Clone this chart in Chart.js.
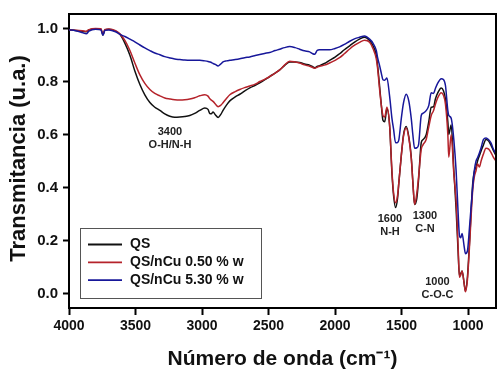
<!DOCTYPE html>
<html><head><meta charset="utf-8">
<script src="https://cdn.jsdelivr.net/npm/chart.js@4"></script>
<style>html,body{margin:0;padding:0;background:#fff}#wrap{width:500px;height:374px;position:relative}</style>
</head><body><div id="wrap"><canvas id="c" width="500" height="374"></canvas></div>
<script>
const wavenumbers = [4000,3950,3900,3870,3850,3800,3760,3745,3730,3700,
3650,3617,3580,3542,3505,3467,3430,3392,3355,3317,
3280,3242,3205,3167,3130,3092,3055,3017,2979,2955,
2941,2930,2917,2900,2879,2860,2842,2815,2791,2750,
2716,2680,2641,2600,2566,2530,2491,2450,2416,2380,
2341,2300,2266,2230,2191,2168,2153,2135,2116,2080,
2041,2000,1966,1930,1890,1850,1816,1778,1740,1715,
1690,1680,1665,1652,1640,1627,1610,1590,1572,1560,
1545,1530,1520,1502,1485,1465,1445,1427,1415,1402,
1385,1372,1352,1340,1315,1295,1277,1260,1245,1227,
1202,1185,1170,1152,1145,1127,1107,1090,1075,1065,
1055,1045,1030,1020,1005,990,965,953,940,928,
915,902,885,865,845,828,810,790];

const qs = [0.995,0.993,0.990,0.988,0.995,0.998,0.998,0.975,0.995,0.997,
0.990,0.978,0.945,0.899,0.840,0.789,0.750,0.721,0.703,0.691,
0.678,0.669,0.665,0.666,0.668,0.672,0.680,0.691,0.700,0.695,
0.679,0.678,0.685,0.675,0.664,0.675,0.691,0.712,0.727,0.742,
0.752,0.764,0.776,0.786,0.795,0.806,0.819,0.832,0.844,0.860,
0.874,0.874,0.872,0.866,0.862,0.856,0.852,0.857,0.860,0.868,
0.880,0.892,0.905,0.920,0.935,0.950,0.960,0.967,0.954,0.935,
0.899,0.860,0.782,0.710,0.654,0.648,0.697,0.636,0.452,0.370,
0.324,0.360,0.420,0.520,0.600,0.630,0.590,0.514,0.420,0.336,
0.360,0.430,0.569,0.580,0.599,0.650,0.703,0.705,0.735,0.758,
0.776,0.765,0.734,0.648,0.600,0.636,0.464,0.320,0.160,0.067,
0.075,0.085,0.040,0.010,0.060,0.185,0.416,0.460,0.477,0.501,
0.520,0.538,0.560,0.581,0.575,0.560,0.540,0.520];

const qsCu050 = [0.995,0.994,0.992,0.990,0.996,1.000,0.999,0.980,0.997,0.998,
0.992,0.980,0.955,0.917,0.870,0.825,0.793,0.770,0.755,0.746,
0.738,0.734,0.731,0.730,0.731,0.734,0.739,0.746,0.750,0.745,
0.735,0.730,0.725,0.715,0.705,0.710,0.720,0.737,0.750,0.762,
0.770,0.777,0.783,0.790,0.800,0.808,0.819,0.832,0.844,0.862,
0.877,0.874,0.870,0.863,0.858,0.853,0.850,0.854,0.858,0.862,
0.870,0.880,0.890,0.905,0.923,0.938,0.948,0.956,0.948,0.925,
0.886,0.850,0.770,0.710,0.672,0.666,0.703,0.636,0.460,0.380,
0.342,0.370,0.420,0.520,0.595,0.625,0.585,0.510,0.420,0.336,
0.379,0.440,0.544,0.560,0.581,0.630,0.672,0.690,0.715,0.740,
0.758,0.748,0.715,0.599,0.514,0.599,0.452,0.350,0.180,0.061,
0.070,0.085,0.040,0.006,0.050,0.171,0.391,0.440,0.464,0.489,
0.477,0.500,0.526,0.548,0.545,0.533,0.515,0.500];

const qsCu530 = [0.995,0.992,0.985,0.980,0.990,0.997,0.995,0.975,0.993,0.995,
0.988,0.978,0.970,0.960,0.950,0.938,0.927,0.917,0.908,0.901,
0.894,0.889,0.885,0.883,0.881,0.880,0.880,0.880,0.878,0.876,
0.874,0.872,0.868,0.865,0.859,0.866,0.874,0.878,0.880,0.883,
0.886,0.890,0.893,0.898,0.902,0.906,0.910,0.917,0.922,0.928,
0.932,0.928,0.922,0.916,0.912,0.905,0.903,0.917,0.920,0.920,
0.920,0.925,0.931,0.940,0.952,0.962,0.967,0.972,0.960,0.945,
0.917,0.890,0.860,0.831,0.807,0.805,0.813,0.746,0.660,0.620,
0.569,0.570,0.581,0.660,0.720,0.752,0.725,0.660,0.599,0.548,
0.550,0.562,0.672,0.680,0.690,0.710,0.758,0.755,0.775,0.795,
0.811,0.808,0.785,0.690,0.672,0.661,0.580,0.464,0.306,0.220,
0.210,0.226,0.180,0.150,0.160,0.244,0.403,0.464,0.500,0.513,
0.530,0.550,0.581,0.587,0.580,0.569,0.545,0.526];

const seriesLabels = ['QS', 'QS/nCu 0.50 % w', 'QS/nCu 5.30 % w'];
const xTicks = [4000, 3500, 3000, 2500, 2000, 1500, 1000];
const yTicks = [0.0, 0.2, 0.4, 0.6, 0.8, 1.0];
const bandNotes = [
  {wn: 3241, t: 0.611, lines: ['3400', 'O-H/N-H']},
  {wn: 1587, t: 0.283, lines: ['1600', 'N-H']},
  {wn: 1324, t: 0.294, lines: ['1300', 'C-N']},
  {wn: 1230, t: 0.044, lines: ['1000', 'C-O-C']}
];
const yTitle = 'Transmitancia (u.a.)';
const xTitle = 'Número de onda (cm⁻¹)';

const colors = ['#111111', '#b5232b', '#17179a'];
const FONT = '"Liberation Sans", Arial, Helvetica, sans-serif';

function pts(arr) { return wavenumbers.map((x, i) => ({x: x, y: arr[i]})); }

const frame = {
  id: 'frame',
  afterDraw(chart) {
    const {ctx, chartArea: a} = chart;
    ctx.save();
    ctx.strokeStyle = '#000';
    ctx.lineWidth = 2;
    ctx.beginPath();
    ctx.moveTo(a.left, a.top); ctx.lineTo(a.right, a.top); ctx.lineTo(a.right, a.bottom);
    ctx.stroke();
    // rotated y-axis title
    ctx.fillStyle = '#111';
    ctx.font = 'bold 22px ' + FONT;
    ctx.textAlign = 'center';
    ctx.textBaseline = 'middle';
    ctx.translate(18.5, a.top + 144.5);
    ctx.rotate(-Math.PI / 2);
    ctx.fillText(yTitle, 0, 0);
    ctx.restore();
  }
};

const notes = {
  id: 'notes',
  afterDatasetsDraw(chart) {
    const {ctx} = chart;
    const xs = chart.scales.x, ys = chart.scales.y;
    ctx.save();
    ctx.font = 'bold 11px ' + FONT;
    ctx.fillStyle = '#222';
    ctx.textAlign = 'center';
    ctx.textBaseline = 'middle';
    bandNotes.forEach(n => {
      const px = xs.getPixelForValue(n.wn), py = ys.getPixelForValue(n.t);
      n.lines.forEach((l, i) => ctx.fillText(l, px, py + i * 13.5));
    });
    ctx.restore();
  }
};

const boxLegend = {
  id: 'boxLegend',
  afterDraw(chart) {
    const {ctx, chartArea: a} = chart;
    const left = a.left + 11, top = a.top + 214, w = 181, h = 70;
    ctx.save();
    ctx.fillStyle = '#fff';
    ctx.fillRect(left, top, w, h);
    ctx.strokeStyle = '#555';
    ctx.lineWidth = 1;
    ctx.strokeRect(left + 0.5, top + 0.5, w, h);
    ctx.font = 'bold 14px ' + FONT;
    ctx.textBaseline = 'middle';
    chart.data.datasets.forEach((ds, i) => {
      const y = top + 16.5 + i * 17.8;
      ctx.strokeStyle = ds.borderColor;
      ctx.lineWidth = 1.8;
      ctx.beginPath(); ctx.moveTo(left + 8, y); ctx.lineTo(left + 42, y); ctx.stroke();
      ctx.fillStyle = '#111';
      ctx.fillText(ds.label, left + 50, y);
    });
    ctx.restore();
  }
};

new Chart(document.getElementById('c'), {
  type: 'line',
  data: {
    datasets: [
      {label: seriesLabels[0], data: pts(qs), borderColor: colors[0], order: 3},
      {label: seriesLabels[1], data: pts(qsCu050), borderColor: colors[1], order: 2},
      {label: seriesLabels[2], data: pts(qsCu530), borderColor: colors[2], order: 1}
    ]
  },
  options: {
    responsive: false,
    devicePixelRatio: 1,
    animation: false,
    layout: {padding: {top: 6, right: 4, left: 0, bottom: 0}},
    elements: {
      line: {borderWidth: 1.5, cubicInterpolationMode: 'monotone', fill: false},
      point: {radius: 0, hoverRadius: 0}
    },
    plugins: {legend: {display: false}, tooltip: {enabled: false}},
    scales: {
      x: {
        type: 'linear', reverse: true, min: 790, max: 4000,
        afterBuildTicks: s => { s.ticks = xTicks.map(v => ({value: v})); },
        afterFit: s => { s.height = 66; },
        ticks: {autoSkip: false, maxRotation: 0, padding: 3, color: '#111',
                callback: v => String(v),
                font: {family: FONT, weight: 'bold', size: 14}},
        grid: {drawOnChartArea: false, drawTicks: true, tickLength: 7, tickWidth: 2, tickColor: '#000'},
        border: {display: true, color: '#000', width: 2},
        title: {display: true, text: xTitle, color: '#111',
                font: {family: FONT, weight: 'bold', size: 21}, padding: {top: 0, bottom: 2}}
      },
      y: {
        type: 'linear', min: -0.055, max: 1.055,
        afterBuildTicks: s => { s.ticks = yTicks.map(v => ({value: v})); },
        afterFit: s => { s.width = 69; },
        ticks: {padding: 5, color: '#111', callback: v => Number(v).toFixed(1),
                font: {family: FONT, weight: 'bold', size: 15}},
        grid: {drawOnChartArea: false, drawTicks: true, tickLength: 6, tickWidth: 2, tickColor: '#000'},
        border: {display: true, color: '#000', width: 2},
        title: {display: false}
      }
    }
  },
  plugins: [frame, notes, boxLegend]
});
</script>
</body></html>
